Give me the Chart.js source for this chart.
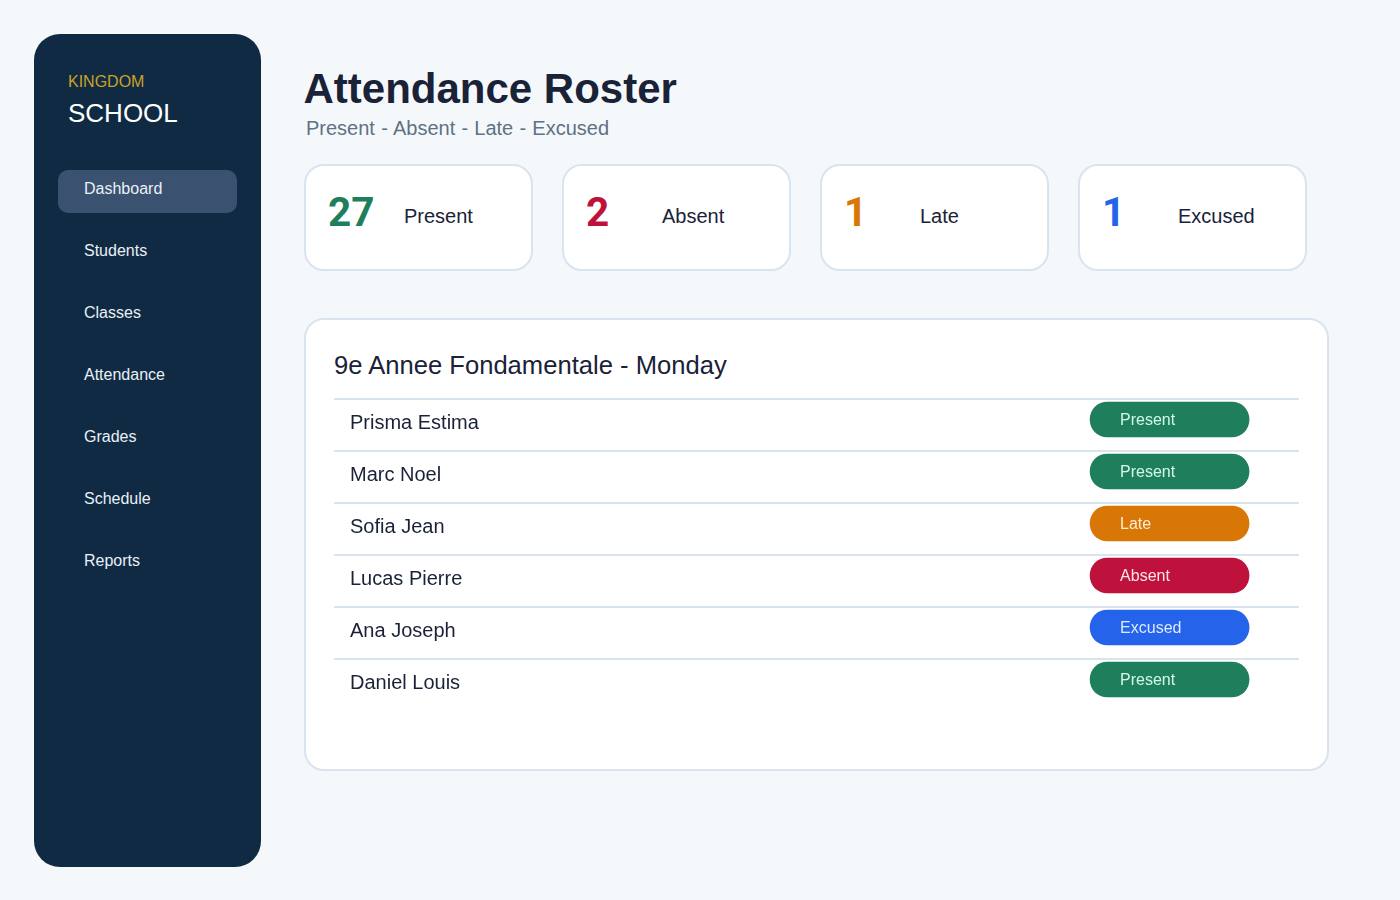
<!DOCTYPE html>
<html>
<head>
<meta charset="utf-8">
<title>Attendance Roster</title>
<script src="https://cdn.jsdelivr.net/npm/chart.js@4"></script>
<style>
    html, body { margin: 0; padding: 0; }
    body {
        width: 1400px;
        height: 900px;
        position: relative;
        overflow: hidden;
        background: #f4f8fb;
        font-family: "Liberation Sans", Arial, sans-serif;
    }
    .abs { position: absolute; white-space: nowrap; line-height: 1; }
    #sidebar { position: absolute; left: 34px; top: 34px; width: 227px; height: 833px; background: #102a43; border-radius: 26px; }
    #navActive { position: absolute; left: 58px; top: 170px; width: 179px; height: 43px; background: #3a526f; border-radius: 10px; }
    .navItem { font-size: 16px; color: #e9f0f6; left: 84px; }
    .card { position: absolute; top: 164px; width: 225px; height: 103px; background: #fff; border: 2px solid #d9e4ee; border-radius: 20px; }
    .count { font-family: Roboto, sans-serif; font-size: 40.5px; font-weight: bold; top: 192px; }
    .countLabel { font-size: 20px; color: #1a2238; top: 206px; }
    #panel { position: absolute; left: 304px; top: 318px; width: 1021px; height: 449px; background: #fff; border: 2px solid #d9e4ee; border-radius: 20px; }
    #rosterWrap { position: absolute; left: 334px; top: 390px; width: 965px; height: 330px; }
</style>
</head>
<body>
<div id="sidebar"></div>
<div id="navActive"></div>
<div class="abs" style="left:68px;top:74px;font-size:16px;color:#c9a227">KINGDOM</div>
<div class="abs" style="left:68px;top:100px;font-size:26px;color:#fff">SCHOOL</div>
<div class="abs" style="left:303.5px;top:68px;font-size:42px;font-weight:bold;color:#1a2238">Attendance Roster</div>
<div class="abs" style="left:306px;top:118px;font-size:20px;word-spacing:0.67px;color:#5f7184">Present - Absent - Late - Excused</div>
<div id="panel"></div>
<div class="abs" style="left:334px;top:353px;font-size:25.6px;color:#1a2238">9e Annee Fondamentale - Monday</div>
<div id="rosterWrap"><canvas id="roster" width="965" height="330"></canvas></div>

<script>
const navItems = ["Dashboard", "Students", "Classes", "Attendance", "Grades", "Schedule", "Reports"];
const summaryLabels = ["Present", "Absent", "Late", "Excused"];
const summaryCounts = [27, 2, 1, 1];
const summaryColors = ["#1f7f5c", "#be123c", "#d97706", "#2563eb"];
const pillTextColors = ["#d1fae5", "#ffe4e6", "#ffedd5", "#dbeafe"];

const students = ["Prisma Estima", "Marc Noel", "Sofia Jean", "Lucas Pierre", "Ana Joseph", "Daniel Louis"];
const statuses = ["Present", "Present", "Late", "Absent", "Excused", "Present"];
const rowMarks = [1, 1, 1, 1, 1, 1];


function buildNav(){
    for(let i = 0; i < navItems.length; i++){
        let item = document.createElement("div");
        item.className = "abs navItem";
        item.style.top = (181 + i * 62) + "px";
        item.textContent = navItems[i];
        document.body.appendChild(item);
    };
};


function buildCards(){
    for(let i = 0; i < summaryLabels.length; i++){
        let left = 304 + i * 258;

        let card = document.createElement("div");
        card.className = "card";
        card.style.left = left + "px";
        document.body.appendChild(card);

        let count = document.createElement("div");
        count.className = "abs count";
        count.style.left = (left + 24) + "px";
        count.style.color = summaryColors[i];
        count.textContent = summaryCounts[i];
        document.body.appendChild(count);

        let label = document.createElement("div");
        label.className = "abs countLabel";
        label.style.left = (left + 100) + "px";
        label.textContent = summaryLabels[i];
        document.body.appendChild(label);
    };
};


function statusColor(status){
    return summaryColors[summaryLabels.indexOf(status)];
};


// writes the status word inside each pill
const pillLabels = {
    id: "pillLabels",
    afterDatasetsDraw(chart){
        const ctx = chart.ctx;
        const bars = chart.getDatasetMeta(0).data;
        ctx.save();
        ctx.font = '16px "Liberation Sans", Arial, sans-serif';
        ctx.textBaseline = "middle";
        bars.forEach((bar, i) => {
            ctx.fillStyle = pillTextColors[summaryLabels.indexOf(statuses[i])];
            ctx.fillText(statuses[i], bar.base + 30, bar.y + 1);
        });
        ctx.restore();
    }
};


function buildRoster(){
    const canvas = document.getElementById("roster").getContext("2d");
    new Chart(canvas, {
        type: "bar",
        data: {
            datasets: [{
                data: rowMarks.map((mark, i) => ({ x: mark, y: i })),
                yAxisID: "pills",
                backgroundColor: statuses.map(statusColor),
                barThickness: 35,
                borderRadius: 18,
                borderSkipped: false
            }]
        },
        options: {
            indexAxis: "y",
            responsive: false,
            animation: false,
            layout: {
                padding: { left: 0, right: 0, top: 9, bottom: 9 }
            },
            scales: {
                x: {
                    type: "linear",
                    min: -4.755,
                    max: 1.314,
                    display: false
                },
                y: {
                    type: "category",
                    labels: students,
                    offset: true,
                    border: { display: false },
                    // names sit inside the plot, so the axis takes no room
                    afterFit(scale){
                        scale.width = 0;
                        scale.paddingTop = 0;
                        scale.paddingBottom = 0;
                    },
                    grid: {
                        offset: true,
                        drawTicks: false,
                        lineWidth: 2,
                        color: (c) => c.index < students.length ? "#d9e4ee" : "transparent"
                    },
                    ticks: {
                        mirror: true,
                        padding: 16,
                        labelOffset: -2,
                        color: "#1a2238",
                        font: { family: '"Liberation Sans", Arial, sans-serif', size: 20 }
                    }
                },
                // pills sit a little above the middle of their row
                pills: {
                    type: "linear",
                    reverse: true,
                    offset: false,
                    min: -0.394,
                    max: 5.606,
                    display: false
                }
            },
            plugins: {
                legend: { display: false },
                tooltip: { enabled: false }
            }
        },
        plugins: [pillLabels]
    });
};


window.addEventListener("load", function(){
    buildNav();
    buildCards();
    buildRoster();
});
</script>
</body>
</html>
